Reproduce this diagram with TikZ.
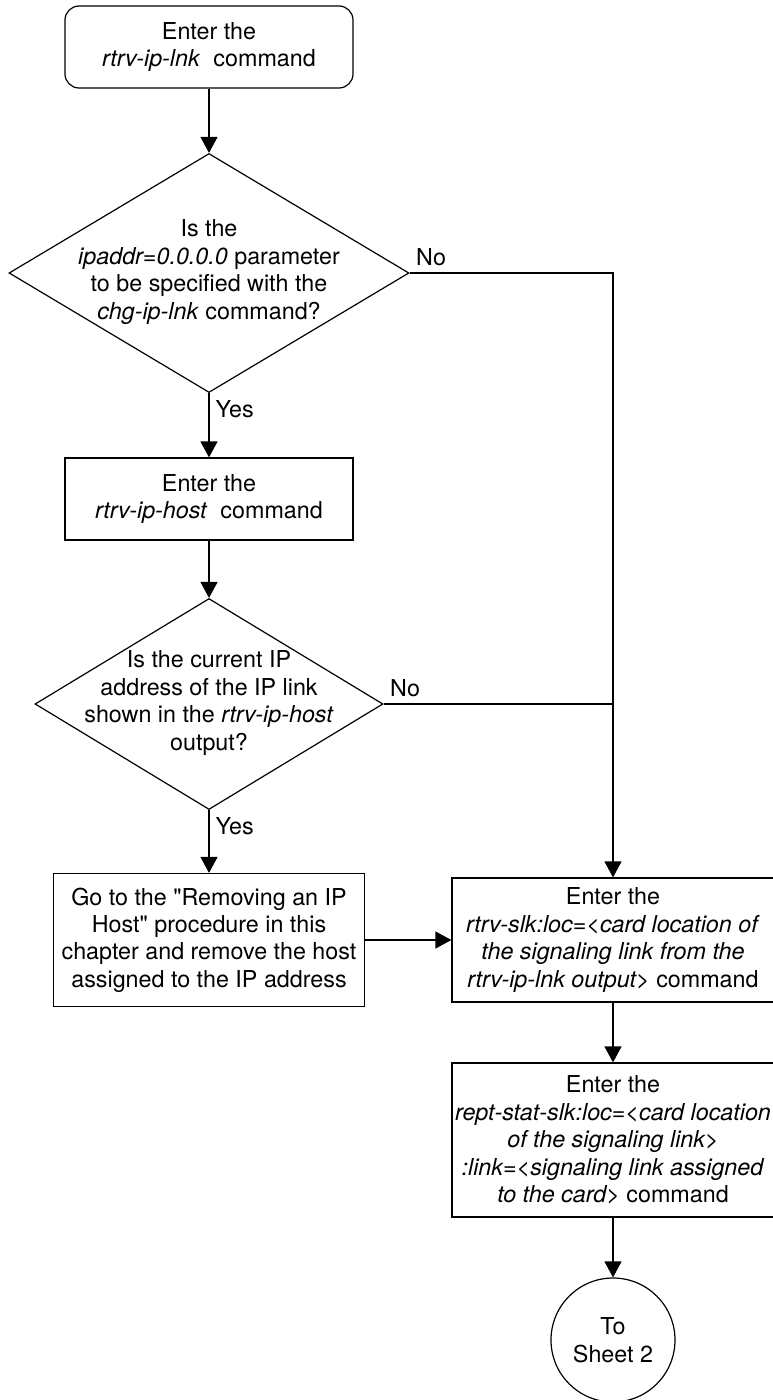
\documentclass[tikz,border=0pt]{standalone}
\usepackage{fontspec}
\setmainfont{TeX Gyre Heros}
\usetikzlibrary{arrows.meta,shapes.geometric}
\tikzset{
  txt/.style={align=center,font=\fontsize{23.3}{27.4}\selectfont,inner sep=0pt},
  box/.style={txt,draw,line width=1.2pt},
  term/.style={box,rounded corners=14pt},                 % start block
  dec/.style={draw,diamond,line width=1.2pt,inner sep=0pt}, % question, text set on top
  conn/.style={box,circle,minimum size=124pt},           % off-page connector
  ar/.style={-{Triangle[length=16pt,width=17pt]},line width=1.2pt},
  lbl/.style={font=\fontsize{23.3}{27.4}\selectfont,inner xsep=6pt,inner ysep=7pt}
}
\newcommand{\cmd}[1]{\textit{#1}}

\begin{document}
\begin{tikzpicture}[x=1pt,y=-1pt]
  \useasboundingbox (0,0) rectangle (772,1400);

  \node[term,minimum width=288pt,minimum height=82pt] (start) at (209,47)
    {Enter the\\\cmd{rtrv-ip-lnk}\ \ command};
  \node[dec,minimum width=400pt,minimum height=239pt] (q1) at (209,273) {};
  \node[txt] (q1t) at (209,272)
    {Is the\\\cmd{ipaddr=0.0.0.0} parameter\\to be specified with the\\\cmd{chg-ip-lnk} command?};
  \node[box,minimum width=288pt,minimum height=82pt] (host) at (209,499)
    {Enter the\\\cmd{rtrv-ip-host}\ \ command};
  \node[dec,minimum width=348pt,minimum height=211pt] (q2) at (209,704) {};
  \node[txt] (q2t) at (209,703)
    {Is the current IP\\address of the IP link\\shown in the \cmd{rtrv-ip-host}\\output?};
  \node[box,minimum width=311pt,minimum height=133pt] (goto) at (209,940)
    {Go to the \textquotedbl Removing an IP\\Host\textquotedbl{} procedure in this\\chapter and remove the host\\assigned to the IP address};
  \node[box,minimum width=322pt,minimum height=124pt] (slk) at (613,940)
    {Enter the\\\cmd{rtrv-slk:loc=<card location of}\\\cmd{the signaling link from the}\\\cmd{rtrv-ip-lnk output>} command};
  \node[box,minimum width=322pt,minimum height=154pt] (stat) at (613,1140)
    {Enter the\\\cmd{rept-stat-slk:loc=<card location}\\\cmd{of the signaling link>}\\\cmd{:link=<signaling link assigned}\\\cmd{to the card>} command};
  \node[conn] (sheet) at (613,1340) {To\\Sheet 2};

  \draw[ar] (start.south) -- (q1.north);
  \draw[ar] (q1.south) -- (host.north) node[lbl,below right,pos=0] (yes1) {Yes};
  \draw[ar] (host.south) -- (q2.north);
  \draw[ar] (q2.south) -- (goto.north) node[lbl,below right,pos=0] (yes2) {Yes};
  \draw[ar] (q1.east) -| (slk.north) node[lbl,above right,pos=0] (no1) {No};
  \draw[line width=1.2pt] (q2.east) -- (q2.east -| slk.north) node[lbl,above right,pos=0] (no2) {No};
  \draw[ar] (goto) -- (slk);
  \draw[ar] (slk) -- (stat);
  \draw[ar] (stat) -- (sheet);
\end{tikzpicture}
\end{document}
